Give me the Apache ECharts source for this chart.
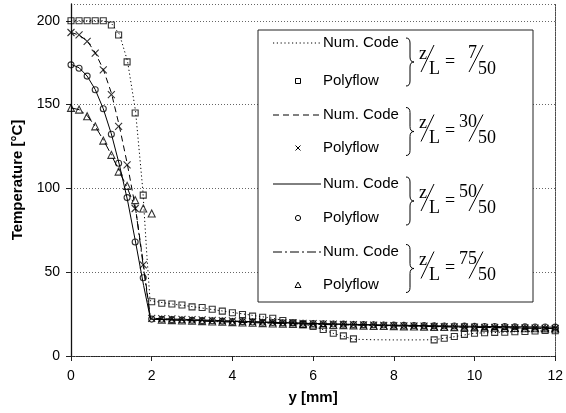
<!DOCTYPE html>
<html>
<head>
<meta charset="utf-8">
<script src="https://cdn.jsdelivr.net/npm/echarts@6/dist/echarts.min.js"></script>
<style>html,body{margin:0;padding:0;background:#fff;}#c{width:566px;height:413px;}</style>
</head>
<body>
<div id="c"></div>
<script>
// ---- data ----
const nearX = [0, 0.2, 0.4, 0.6, 0.8, 1.0, 1.18, 1.39, 1.59, 1.79];
const farX = [2, 2.25, 2.5, 2.75, 3, 3.25, 3.5, 3.75, 4, 4.25, 4.5, 4.75, 5, 5.25, 5.5, 5.75, 6, 6.25, 6.5, 6.75, 7,
  7.25, 7.5, 7.75, 8, 8.25, 8.5, 8.75, 9, 9.25, 9.5, 9.75, 10, 10.25, 10.5, 10.75, 11, 11.25, 11.5, 11.75, 12];

const poly7Near = [200, 200, 200, 200, 200, 197.5, 191.5, 175.5, 145, 96];
const poly7Far = [32.4, 31.5, 31, 30.4, 29.3, 28.9, 27.9, 26.8, 25.8, 24.8, 23.8, 23.1, 22.5, 21.2, 19.8, 18.7, 17.7, 15.8, 13.6, 12.0, 10.2,
  null, null, null, null, null, null, null, 9.6, 10.6, 11.6, 12.9, 13.6, 13.9, 14.1, 14.2, 14.5, 14.6, 14.9, 15.2, 15.1];

const poly30Near = [193, 191.6, 187.7, 180.7, 170.7, 156, 137, 114, 88, 54.3];
const poly30Far = [22.5, 22.3, 22.1, 21.9, 21.7, 21.5, 21.3, 21.1, 20.9, 20.7, 20.5, 20.3, 20.1, 19.9, 19.7, 19.5, 19.3, 19.2, 19.0, 18.9, 18.7,
  18.6, 18.4, 18.3, 18.1, 18.0, 17.9, 17.8, 17.6, 17.5, 17.4, 17.3, 17.2, 17.1, 17.0, 16.9, 16.8, 16.7, 16.6, 16.5, 16.4];

const poly50Near = [173.7, 171.7, 167, 158.8, 147.5, 132.3, 115, 94.5, 68, 46.7];
const poly50Far = [22.0, 21.9, 21.7, 21.5, 21.3, 21.1, 21.0, 20.8, 20.6, 20.5, 20.3, 20.1, 20.0, 19.8, 19.7, 19.5, 19.4, 19.2, 19.1, 19.0, 18.8,
  18.7, 18.6, 18.5, 18.4, 18.3, 18.2, 18.1, 18.0, 17.9, 17.9, 17.8, 17.7, 17.6, 17.6, 17.5, 17.4, 17.4, 17.3, 17.3, 17.2];

const poly75Near = [148, 147, 143, 137, 128.5, 120, 110, 101.5, 93, 88];
const poly75Far = [85, 21.6, 21.4, 21.2, 21.0, 20.8, 20.6, 20.4, 20.2, 20.0, 19.8, 19.6, 19.4, 19.3, 19.1, 19.0, 18.8, 18.7, 18.5, 18.4, 18.3,
  18.1, 18.0, 17.9, 17.8, 17.7, 17.6, 17.5, 17.4, 17.3, 17.2, 17.1, 17.0, 16.9, 16.9, 16.8, 16.7, 16.6, 16.6, 16.5, 16.4];

const code7X = [0, 0.8, 1.0, 1.2, 1.4, 1.6, 1.78, 1.88, 1.96, 2.5, 3, 4, 5, 5.5, 6, 6.5, 7, 7.5, 8, 8.5, 9, 9.5, 10, 11, 12];
const code7Y = [200, 200, 198.5, 192, 176, 146, 99, 60, 33, 31, 29.5, 26, 22.5, 20, 17.8, 13.5, 10, 9.7, 9.6, 9.6, 9.7, 11.5, 13.6, 14.5, 15.2];
const code30X = [0, 0.2, 0.4, 0.6, 0.8, 1.0, 1.2, 1.4, 1.6, 1.8, 1.97, 3, 4, 6, 8, 10, 12];
const code30Y = [193, 191.5, 188, 181, 171, 157, 137, 114, 88, 54, 22.5, 21.7, 20.9, 19.3, 18.1, 17.2, 16.4];
const code50X = [0, 0.2, 0.4, 0.6, 0.8, 1.0, 1.2, 1.4, 1.6, 1.8, 1.97, 3, 4, 6, 8, 10, 12];
const code50Y = [174, 172, 167, 159, 147.5, 132.5, 114, 93, 68, 42, 22, 21.3, 20.6, 19.4, 18.4, 17.7, 17.2];
const code75X = [0, 0.2, 0.4, 0.6, 0.8, 1.0, 1.2, 1.4, 1.6, 1.8, 1.97, 3, 4, 6, 8, 10, 12];
const code75Y = [148, 147, 143.5, 137, 129, 120, 110, 100, 88, 52, 22, 21.0, 20.2, 18.9, 18.0, 17.1, 16.4];

const groups = ['7', '30', '50', '75'];
const denom = '50';
const lineLabel = 'Num. Code';
const markLabel = 'Polyflow';
const xTitle = 'y [mm]';
const yTitle = 'Temperature [°C]';

// ---- build ----
const zip = (xs, ys) => xs.map((x, i) => [x, ys[i]]);
const codeData = [zip(code7X, code7Y), zip(code30X, code30Y), zip(code50X, code50Y), zip(code75X, code75Y)];
const polyData = [
  zip(nearX.concat(farX), poly7Near.concat(poly7Far)).filter(p => p[1] != null),
  zip(nearX.concat(farX), poly30Near.concat(poly30Far)),
  zip(nearX.concat(farX), poly50Near.concat(poly50Far)),
  zip(nearX.concat(farX), poly75Near.concat(poly75Far))
];
const dashTypes = [[1.2, 2.6], [6, 4], 'solid', [9, 3, 2, 3]];
const symbols = ['rect', 'path://M0,0L10,10M10,0L0,10', 'circle', 'triangle'];
const symSizes = [6, 7, 6, 7];
const ink = '#000';

const series = [];
groups.forEach((g, i) => {
  series.push({
    name: lineLabel + ' ' + g + '/' + denom, type: 'line', data: codeData[i], showSymbol: false, symbol: 'none',
    lineStyle: {color: ink, width: 1, type: dashTypes[i]}, itemStyle: {color: ink}, z: 3, animation: false
  });
  series.push({
    name: markLabel + ' ' + g + '/' + denom, type: 'scatter', data: polyData[i], symbol: symbols[i], symbolSize: symSizes[i],
    itemStyle: {color: 'none', borderColor: ink, borderWidth: 1.1}, z: 4, animation: false
  });
});

// legend (drawn as graphic): box, samples, braces, fractions
const LX = 258, LY = 30, LW = 275, LH = 272;
const rowsY = [43, 81, 115, 148, 184, 218, 252, 285];
const sans = 'Liberation Sans, Arial, sans-serif';
const serif = 'Liberation Serif, Times New Roman, serif';
const strokeStyle = {fill: 'none', stroke: ink, lineWidth: 1};
const graphics = [{
  type: 'rect', z: 1, shape: {x: LX, y: LY, width: LW, height: LH},
  style: {fill: '#fff', stroke: '#222', lineWidth: 1}
}];
const curve = (x1, y1, cx, cy, x2, y2) => ({type: 'bezierCurve', z: 10,
  shape: {x1: x1, y1: y1, cpx1: cx, cpy1: cy, x2: x2, y2: y2}, style: strokeStyle});
const seg = (x1, y1, x2, y2, dash) => ({type: 'line', z: 10, shape: {x1: x1, y1: y1, x2: x2, y2: y2},
  style: Object.assign({}, strokeStyle, dash ? {lineDash: dash} : {})});
const txt = (s, x, y, align, font) => ({type: 'text', z: 10, x: x, y: y,
  style: {text: s, font: font || ('18px ' + serif), fill: ink, align: align || 'left', verticalAlign: 'middle'}});
const mx = 298;
const markerShapes = [
  y => [{type: 'rect', z: 10, shape: {x: mx - 2.5, y: y - 2.5, width: 5, height: 5}, style: strokeStyle}],
  y => [seg(mx - 2.5, y - 2.5, mx + 2.5, y + 2.5), seg(mx + 2.5, y - 2.5, mx - 2.5, y + 2.5)],
  y => [{type: 'circle', z: 10, shape: {cx: mx, cy: y, r: 2.6}, style: strokeStyle}],
  y => [{type: 'polygon', z: 10, shape: {points: [[mx, y - 3], [mx + 3, y + 2.5], [mx - 3, y + 2.5]]}, style: strokeStyle}]
];
groups.forEach((g, i) => {
  const y1 = rowsY[2 * i], y2 = rowsY[2 * i + 1];
  const d = dashTypes[i];
  graphics.push(seg(273, y1, 321, y1, Array.isArray(d) ? d : null));
  graphics.push(txt(lineLabel, 323, y1, 'left', '15px ' + sans));
  markerShapes[i](y2).forEach(s => graphics.push(s));
  graphics.push(txt(markLabel, 323, y2, 'left', '15px ' + sans));

  const cy = (y1 + y2) / 2;
  const l = 406, c = 410, r = 414, h = 24;
  graphics.push(curve(l, cy - h, c, cy - h, c, cy - h + 5));
  graphics.push(seg(c, cy - h + 5, c, cy - 5));
  graphics.push(curve(c, cy - 5, c, cy, r, cy));
  graphics.push(curve(r, cy, c, cy, c, cy + 5));
  graphics.push(seg(c, cy + 5, c, cy + h - 5));
  graphics.push(curve(c, cy + h - 5, c, cy + h, l, cy + h));
  graphics.push(txt('z', 419, cy - 8));
  graphics.push(seg(421, cy + 10, 434, cy - 17));
  graphics.push(txt('L', 429, cy + 7));
  graphics.push(txt('=', 450, cy, 'center'));
  graphics.push(txt(g, 477, cy - 9, 'right'));
  graphics.push(seg(469, cy + 10, 483, cy - 17));
  graphics.push(txt(denom, 478, cy + 7));
});

const chart = echarts.init(document.getElementById('c'), null, {renderer: 'canvas'});
chart.setOption({
  animation: false,
  textStyle: {fontFamily: sans},
  grid: {left: 71, right: 7, top: 4, bottom: 57},
  xAxis: {
    type: 'value', min: 0, max: 12, interval: 2,
    name: xTitle, nameLocation: 'middle', nameGap: 34,
    nameTextStyle: {fontSize: 15, fontWeight: 'bold', color: ink},
    axisLine: {lineStyle: {color: '#222', width: 1, type: [1.5, 1]}},
    axisTick: {show: true, length: 5, lineStyle: {color: '#222'}},
    axisLabel: {fontSize: 14, color: ink, margin: 13},
    splitLine: {show: false}
  },
  yAxis: [{
    type: 'value', min: 0, max: 210, interval: 50,
    name: yTitle, nameLocation: 'middle', nameGap: 46, nameRotate: 90,
    nameTextStyle: {fontSize: 15, fontWeight: 'bold', color: ink},
    axisLine: {show: true, lineStyle: {color: '#111', width: 1.3}},
    axisTick: {show: true, length: 5, lineStyle: {color: '#222'}},
    axisLabel: {fontSize: 14, color: ink, margin: 11, showMaxLabel: false},
    splitLine: {show: true, lineStyle: {color: '#666', width: 1, type: [1, 2]}}
  }, {
    type: 'value', min: 0, max: 210, interval: 50, position: 'right',
    axisLine: {show: true, lineStyle: {color: '#444', width: 1, type: [1.5, 1]}},
    axisTick: {show: false}, axisLabel: {show: false}, splitLine: {show: false}
  }],
  graphic: graphics,
  series: series
});
</script>
</body>
</html>
